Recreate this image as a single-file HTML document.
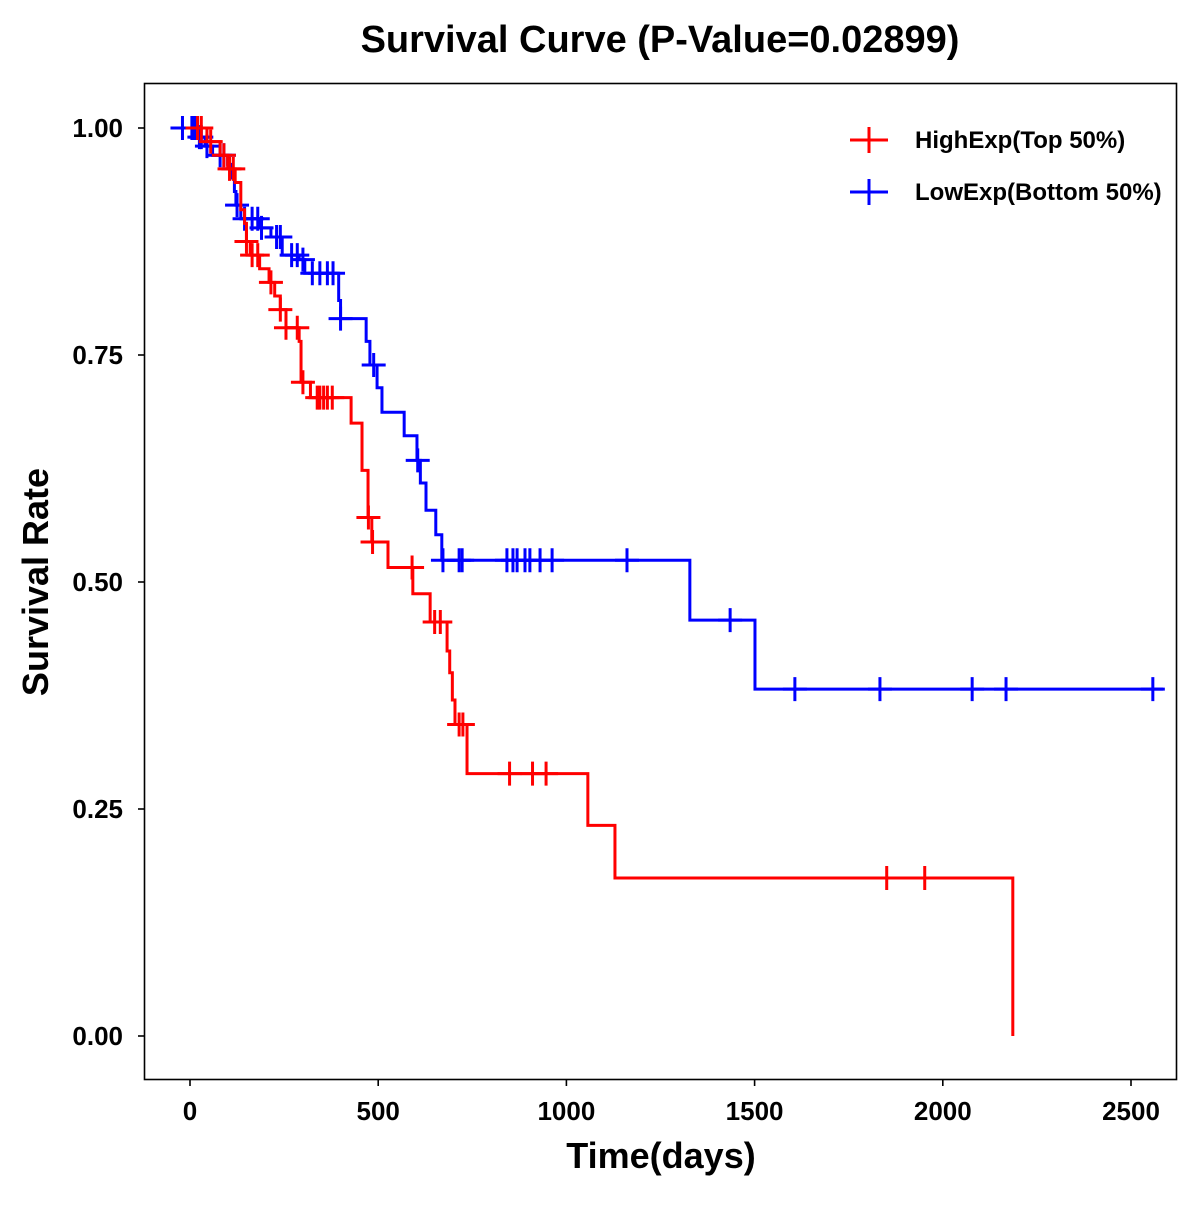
<!DOCTYPE html>
<html><head><meta charset="utf-8"><style>
html,body{margin:0;padding:0;background:#fff;}
svg text{font-family:"Liberation Sans",Arial,sans-serif;font-weight:bold;fill:#000;}
</style></head><body>
<svg id="chart" width="1200" height="1200" viewBox="0 0 1200 1200" xmlns="http://www.w3.org/2000/svg">
<rect width="1200" height="1200" fill="#fff"/>
<text x="660" y="52" font-size="38" text-anchor="middle">Survival Curve (P-Value=0.02899)</text>
<rect x="144.5" y="83.5" width="1032" height="996" fill="none" stroke="#000" stroke-width="1.6"/>
<g id="axes"></g>
<g id="series"></g>
<text x="661" y="1168" font-size="36" text-anchor="middle">Time(days)</text>
<text transform="translate(48,582) rotate(-90)" font-size="36" text-anchor="middle">Survival Rate</text>
<g>
<g>
<line x1="850" y1="140" x2="888" y2="140" stroke="#ff0000" stroke-width="3"/><line x1="869" y1="127" x2="869" y2="153" stroke="#ff0000" stroke-width="3"/>
<text x="915" y="148" font-size="24">HighExp(Top 50%)</text></g>
<g>
<line x1="850" y1="192" x2="888" y2="192" stroke="#0000ff" stroke-width="3"/><line x1="869" y1="179" x2="869" y2="205" stroke="#0000ff" stroke-width="3"/>
<text x="915" y="200" font-size="24">LowExp(Bottom 50%)</text></g>
</g>
</svg>
<script>
const xTicks=[0,500,1000,1500,2000,2500];
const yTicks=[0,0.25,0.5,0.75,1.0];
const yTickLabels=["0.00","0.25","0.50","0.75","1.00"];
const highTimes=[0,45,80,100,120,135,145,150,160,185,210,225,240,255,290,295,320,428,457,473,483,526,592,638,683,690,697,704,736,1057,1129,2186];
const highSurv=[1.0,0.985,0.97,0.955,0.94,0.91,0.895,0.875,0.86,0.845,0.83,0.815,0.80,0.78,0.765,0.72,0.703,0.675,0.623,0.571,0.544,0.516,0.487,0.456,0.424,0.40,0.37,0.343,0.289,0.232,0.174,0.0];
const highCensor=[20,30,55,90,105,115,150,165,180,215,240,255,285,300,338,345,355,365,378,474,485,590,650,665,715,725,849,910,946,1851,1952];
const lowTimes=[0,20,40,60,100,110,118,122,135,185,215,245,290,305,395,400,468,478,497,510,569,603,612,627,653,669,1328,1501];
const lowSurv=[1.0,0.99,0.98,0.97,0.96,0.945,0.93,0.915,0.90,0.89,0.88,0.86,0.855,0.84,0.81,0.79,0.765,0.739,0.714,0.687,0.661,0.634,0.609,0.579,0.552,0.524,0.458,0.382];
const lowCensor=[-20,5,10,15,25,30,45,80,90,125,145,165,180,190,230,240,270,285,300,325,345,365,380,400,488,605,672,715,723,842,858,869,890,903,930,962,1161,1435,1607,1833,2078,2168,2558];
const lowEnd=2585;
const NS="http://www.w3.org/2000/svg";
function xs(t){return 190+t*941/2500;}
function ys(s){return 1036-s*908;}
function mk(tag,attrs,parent){const e=document.createElementNS(NS,tag);for(const k in attrs)e.setAttribute(k,attrs[k]);parent.appendChild(e);return e;}
const axes=document.getElementById('axes');
xTicks.forEach((t,i)=>{
  const l=mk('line',{x1:xs(t),x2:xs(t),y1:1080,y2:1086,stroke:'#000','stroke-width':1.6},axes);
  
  
  const tx=mk('text',{x:xs(t),y:1120,'font-size':26,'text-anchor':'middle'},axes);
  tx.textContent=String(t);
  
  
});
yTicks.forEach((s,i)=>{
  const l=mk('line',{x1:138,x2:144,y1:ys(s),y2:ys(s),stroke:'#000','stroke-width':1.6},axes);
  
  
  const tx=mk('text',{x:123,y:ys(s)+9,'font-size':26,'text-anchor':'end'},axes);
  tx.textContent=yTickLabels[i];
  
  
});
function survAt(times,surv,t){let s=surv[0];for(let i=0;i<times.length;i++){if(times[i]<=t)s=surv[i];}return s;}
function drawSeries(times,surv,censor,end,color,name){
  const g=mk('g',{},document.getElementById('series'));
  
  
  let d='M'+xs(times[0])+' '+ys(surv[0]);
  for(let i=1;i<times.length;i++){d+=' H'+xs(times[i])+' V'+ys(surv[i]);}
  if(end!==null)d+=' H'+xs(end);
  const p=mk('path',{d:d,fill:'none',stroke:color,'stroke-width':3},g);
  
  
  censor.forEach(t=>{
    const s=survAt(times,surv,t);
    const c=mk('path',{d:'M'+(xs(t)-12)+' '+ys(s)+' H'+(xs(t)+12)+' M'+xs(t)+' '+(ys(s)-12)+' V'+(ys(s)+12),stroke:color,'stroke-width':3,fill:'none'},g);
    
    
  });
}
drawSeries(lowTimes,lowSurv,lowCensor,lowEnd,'#0000ff','low-exp-series');
drawSeries(highTimes,highSurv,highCensor,null,'#ff0000','high-exp-series');
</script>
</body></html>
